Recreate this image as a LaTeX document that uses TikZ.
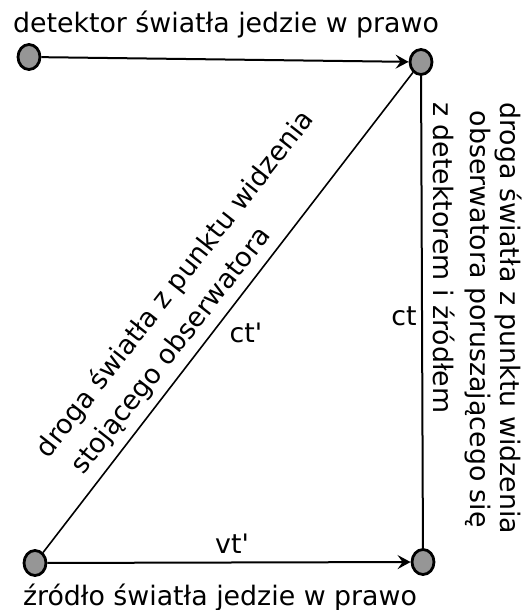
\documentclass[tikz,border=0pt]{standalone}
\usepackage{fontspec}
\setmainfont{DejaVu Sans}
\usetikzlibrary{arrows.meta,positioning,shapes.geometric}
\definecolor{dotgray}{RGB}{150,150,150}

\begin{document}
\begin{tikzpicture}[x=0.5pt,y=-0.5pt,
  dot/.style={ellipse,draw,line width=1.4pt,fill=dotgray,minimum width=11pt,minimum height=12.5pt,inner sep=0pt},
  ray/.style={line width=0.8pt},
  move/.style={line width=1pt,-{Stealth[length=6.5pt,width=7pt,inset=2.5pt]}},
  lbl/.style={font=\fontsize{13.4}{15}\selectfont,inner sep=0pt}]
\useasboundingbox (0,0) rectangle (528,610);
% detector and source, before and after
\node[dot] (detA) at (29,57) {};
\node[dot] (detB) at (421,62) {};
\node[dot] (srcA) at (35,563) {};
\node[dot] (srcB) at (423,562) {};
\draw[move] (detA) -- (detB);
\draw[move] (srcA) -- (srcB);
\draw[ray] (srcA) -- (detB);
\draw[ray,line width=1pt] (detB) -- (srcB);
% labels
\node[lbl,anchor=base] (top) at (226,33) {detektor światła jedzie w prawo};
\node[lbl,anchor=base] (bot) at (220,605) {źródło światła jedzie w prawo};
\node[lbl,anchor=base] (ctp) at (246,342) {ct\textquotesingle};
\node[lbl,anchor=base] (ct) at (404,325) {ct};
\node[lbl,anchor=base] (vtp) at (232,553) {vt\textquotesingle};
\node[lbl,anchor=base west,rotate=51.9,align=left,font=\fontsize{13.4}{18.9}\selectfont] (stay) at (78,483)
  {droga światła z punktu widzenia\\\hspace*{.32em}stojącego obserwatora};
\node[lbl,anchor=base west,rotate=-90,align=left,font=\fontsize{13.4}{15}\selectfont] (moving) at (470,102)
  {droga światła z punktu widzenia\\\hspace*{.32em}obserwatora poruszającego się};
\node[lbl,anchor=base west,rotate=-90] (with) at (433,102) {z detektorem i źródłem};
\end{tikzpicture}
\end{document}
